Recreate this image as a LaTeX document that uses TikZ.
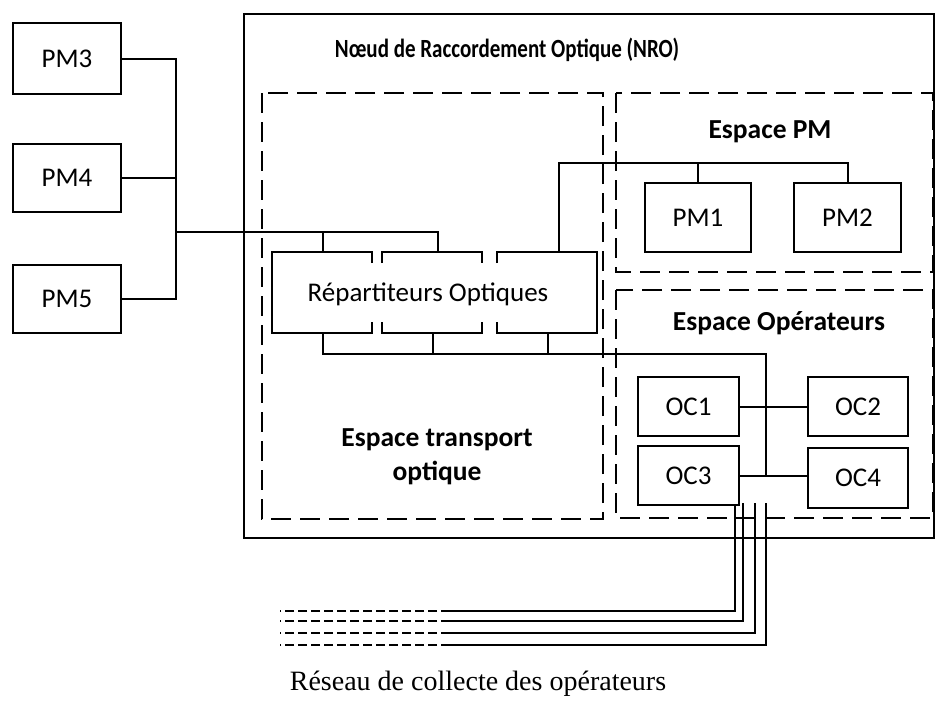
\documentclass[tikz,border=0pt]{standalone}
\usepackage{fontspec}
\setmainfont{Carlito}
\newfontfamily\capfont{Liberation Serif}
\begin{document}
\begin{tikzpicture}[x=1pt,y=-1pt,
  box/.style={draw,line width=2pt,inner sep=0pt,outer sep=0pt,font=\fontsize{27}{29}\selectfont},
  zone/.style={draw,line width=2pt,dash pattern=on 20pt off 9pt},
  wire/.style={line width=2pt},
  ttl/.style={font=\bfseries\fontsize{27.5}{34}\selectfont,align=center},
  dashwire/.style={line width=2pt,dash pattern=on 9pt off 4pt}]
\useasboundingbox (0,0) rectangle (936,705);

% NRO outer box
\draw[line width=2pt] (244,14) rectangle (934,538);
\node[font=\bfseries\fontsize{21}{24}\selectfont] (nro) at (507,50) {\scalebox{1}[1.25]{Nœud de Raccordement Optique (NRO)}};

% zones
\draw[zone] (262,93) rectangle (603,519);
\draw[zone] (616,93) rectangle (933,272);
\draw[zone] (616,290) rectangle (933,518);
\node[ttl] (ept) at (437,457) {Espace transport\\optique};
\node[ttl] (epm) at (770,132) {Espace PM};
\node[ttl] (eop) at (779,323) {Espace Opérateurs};

% PM outside
\node[box,minimum width=108pt,minimum height=71pt] (pm3) at (67,58.5) {PM3};
\node[box,minimum width=108pt,minimum height=68pt] (pm4) at (67,178) {PM4};
\node[box,minimum width=108pt,minimum height=68pt] (pm5) at (67,299) {PM5};

% PM inside
\node[box,minimum width=106pt,minimum height=69pt] (pm1) at (698,217.5) {PM1};
\node[box,minimum width=107pt,minimum height=69pt] (pm2) at (847.5,217.5) {PM2};

% OC
\node[box,minimum width=101pt,minimum height=59pt] (oc1) at (688.5,406.5) {OC1};
\node[box,minimum width=100pt,minimum height=59pt] (oc2) at (858,406.5) {OC2};
\node[box,minimum width=101pt,minimum height=59pt] (oc3) at (688.5,475.5) {OC3};
\node[box,minimum width=100pt,minimum height=60pt] (oc4) at (858,478) {OC4};

% Repartiteurs (split frame)
\node[font=\fontsize{27}{29}\selectfont,inner sep=0pt] (rep) at (428,294) {Répartiteurs Optiques};
\draw[wire] (372,263) -- (372,252) -- (272,252) -- (272,333) -- (372,333) -- (372,322);
\draw[wire] (382,263) -- (382,252) -- (482,252) -- (482,263);
\draw[wire] (382,322) -- (382,333) -- (482,333) -- (482,322);
\draw[wire] (497,263) -- (497,252) -- (597,252) -- (597,333) -- (497,333) -- (497,322);

% left bus
\coordinate (busL) at (176,232);
\draw[wire] (pm3.east) -- (pm3.east -| busL) -- (pm5.east -| busL) -- (pm5.east);
\draw[wire] (pm4.east) -- (pm4.east -| busL);
\coordinate (rtA) at (323,252);
\coordinate (rtB) at (438,252);
\draw[wire] (busL) -- (rtB |- busL) -- (rtB);
\draw[wire] (rtA |- busL) -- (rtA);

% PM bus
\coordinate (rtC) at (559,252);
\coordinate (pmbus) at (559,163);
\draw[wire] (rtC) -- (pmbus) -- (pmbus -| pm2.north) -- (pm2.north);
\draw[wire] (pmbus -| pm1.north) -- (pm1.north);

% operator bus
\coordinate (rbA) at (323,333);
\coordinate (rbB) at (433,333);
\coordinate (rbC) at (548,333);
\coordinate (opbus) at (766,354);
\draw[wire] (rbA) -- (rbA |- opbus) -- (opbus) -- (opbus |- oc3.east);
\draw[wire] (rbB) -- (rbB |- opbus);
\draw[wire] (rbC) -- (rbC |- opbus);
\draw[wire] (oc1.east) -- (oc2.west);
\draw[wire] (oc3.east) -- (oc3.east -| oc4.west);

% collecte lines
\coordinate (c1) at (735,505);
\coordinate (c2) at (743,503);
\coordinate (c3) at (755,503);
\coordinate (c4) at (766,503);
\coordinate (s1) at (450,611);
\coordinate (s2) at (450,621);
\coordinate (s3) at (450,633);
\coordinate (s4) at (450,645);
\coordinate (e1) at (280,611);
\coordinate (e2) at (280,621);
\coordinate (e3) at (280,633);
\coordinate (e4) at (280,645);
\draw[wire] (c1) -- (c1 |- s1) -- (s1);
\draw[wire] (c2) -- (c2 |- s2) -- (s2);
\draw[wire] (c3) -- (c3 |- s3) -- (s3);
\draw[wire] (c4) -- (c4 |- s4) -- (s4);
\draw[dashwire] (s1) -- (e1);
\draw[dashwire] (s2) -- (e2);
\draw[dashwire] (s3) -- (e3);
\draw[dashwire] (s4) -- (e4);

\node[font=\capfont\fontsize{28}{30}\selectfont] (cap) at (478,684) {Réseau de collecte des opérateurs};
\end{tikzpicture}
\end{document}
